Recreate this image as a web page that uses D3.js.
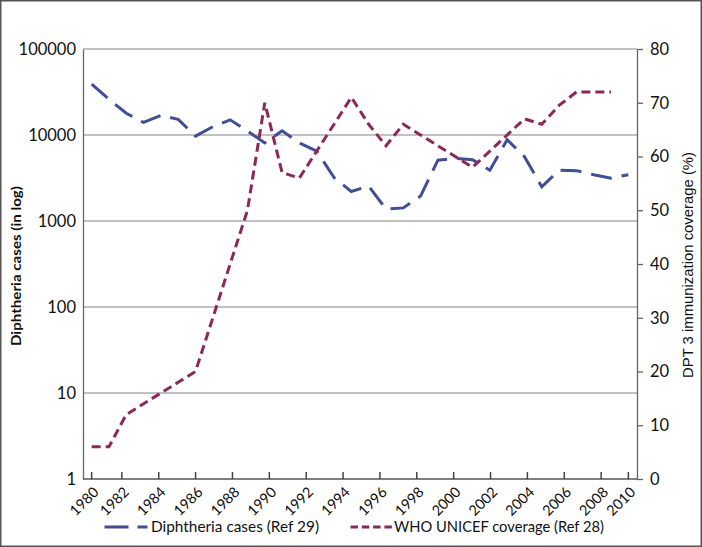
<!DOCTYPE html>
<html><head><meta charset="utf-8">
<script src="https://cdn.jsdelivr.net/npm/d3@7"></script>
<style>html,body{margin:0;padding:0;background:#fff;}svg{display:block;}</style>
</head><body>
<script>
// ---- data ----
const years = [1980,1981,1982,1983,1984,1985,1986,1987,1988,1989,1990,1991,1992,1993,1994,1995,
               1996,1997,1998,1999,2000,2001,2002,2003,2004,2005,2006,2007,2008,2009,2010,2011];
const diphtheriaCases = [39000,26000,17900,14000,16900,15200,9700,12500,15000,11100,8100,11200,8100,6500,3200,2200,
                         2550,1380,1420,1950,5100,5350,5150,3900,8800,5600,2500,3900,3850,3450,3150,3450];
const dptCoverage = [6,6,12,14,16,18,20,30,40,50,70,57,56,61,66,71,
                     66,62,66,64,62,60,58,61,64,67,66,69.5,72,72,72];
const xTickLabels = ["1980","1982","1984","1986","1988","1990","1992","1994","1996","1998","2000","2002","2004","2006","2008","2010"];
const leftTicks = [1,10,100,1000,10000,100000];
const rightTicks = [0,10,20,30,40,50,60,70,80];
const seriesNames = ["Diphtheria cases  (Ref 29)", "WHO UNICEF coverage (Ref 28)"];

const W = 702, H = 547;
const L = 83, R = 637, T = 49, B = 479;
const blue = "#414E94", pink = "#8B2858";
const font = "Lato, 'Open Sans', sans-serif";

const svg = d3.select("body").append("svg").attr("width", W).attr("height", H);
svg.append("rect").attr("x",0.75).attr("y",0.75).attr("width",W-1.5).attr("height",H-1.5)
   .attr("fill","#fff").attr("stroke","#555").attr("stroke-width",1.5);

const x = d3.scalePoint().domain(years).range([L, R]).padding(0.5);
const yL = d3.scaleLog().domain([1, 100000]).range([B, T]);
const yR = d3.scaleLinear().domain([0, 80]).range([B, T]);
const xTick = d3.scaleLinear().domain([1980, 2010]).range([85, 638]);

// gridlines
svg.append("g").selectAll("line").data(leftTicks.slice(1)).join("line")
  .attr("x1", L).attr("x2", R).attr("y1", d => yL(d)).attr("y2", d => yL(d))
  .attr("stroke", "#858585").attr("stroke-width", 1.2);

// left axis
const gl = svg.append("g").attr("transform", `translate(${L},0)`)
  .call(d3.axisLeft(yL).tickValues(leftTicks).tickFormat(d3.format("d")).tickSize(0).tickPadding(7));
gl.select(".domain").attr("stroke", "#666").attr("stroke-width", 1.3);
gl.selectAll("text").attr("font-family", font).attr("font-size", 16.5).attr("fill", "#111");

// right axis
const gr = svg.append("g").attr("transform", `translate(${R},0)`)
  .call(d3.axisRight(yR).tickValues(rightTicks).tickSize(6).tickSizeOuter(0).tickPadding(7));
gr.select(".domain").attr("stroke", "#666").attr("stroke-width", 1.3);
gr.selectAll(".tick line").attr("stroke", "#666").attr("stroke-width", 1.3);
gr.selectAll("text").attr("font-family", font).attr("font-size", 16.5).attr("fill", "#111");

// bottom axis
svg.append("line").attr("x1", L).attr("x2", R).attr("y1", B).attr("y2", B)
  .attr("stroke", "#555").attr("stroke-width", 1.5);
const tickPos = (lab, i) => i === 0 ? x(years[0]) : (i === xTickLabels.length - 1 ? x(years[years.length-1]) : xTick(+lab));
const gx = svg.append("g");
gx.selectAll("line").data(xTickLabels).join("line")
  .attr("x1", tickPos).attr("x2", tickPos).attr("y1", B).attr("y2", B - 7)
  .attr("stroke", "#444").attr("stroke-width", 1.5);
gx.selectAll("text").data(xTickLabels).join("text")
  .attr("transform", (d, i) => `translate(${tickPos(d, i) + 8},${B + 14}) rotate(-45)`)
  .attr("text-anchor", "end").attr("font-family", font).attr("font-size", 14.5).attr("fill", "#111")
  .text(d => d);

// titles
svg.append("text").attr("transform", `translate(21,266) rotate(-90)`)
  .attr("text-anchor", "middle").attr("font-family", font).attr("font-weight", "bold")
  .attr("font-size", 13.5).attr("fill", "#111")
  .attr("textLength", 160).attr("lengthAdjust", "spacingAndGlyphs")
  .text("Diphtheria cases (in log)");
svg.append("text").attr("transform", `translate(693,265) rotate(-90)`)
  .attr("text-anchor", "middle").attr("font-family", "'Liberation Sans Narrow','Liberation Sans',sans-serif")
  .attr("font-size", 15).attr("fill", "#111")
  .attr("textLength", 226).attr("lengthAdjust", "spacingAndGlyphs")
  .text("DPT 3 immunization coverage (%)");

// lines
const lineL = d3.line().x((d, i) => x(years[i])).y(d => yL(d));
const lineR = d3.line().x((d, i) => x(years[i])).y(d => yR(d));
svg.append("path").datum(diphtheriaCases).attr("d", lineL).attr("fill", "none")
  .attr("stroke", blue).attr("stroke-width", 3).attr("stroke-dasharray", "21,10");
svg.append("path").datum(dptCoverage).attr("d", lineR).attr("fill", "none")
  .attr("stroke", pink).attr("stroke-width", 3).attr("stroke-dasharray", "9,5");

// legend
const ly = 527;
svg.append("line").attr("x1", 104.5).attr("x2", 147.5).attr("y1", ly).attr("y2", ly)
  .attr("stroke", blue).attr("stroke-width", 3).attr("stroke-dasharray", "24,9");
svg.append("text").attr("x", 151).attr("y", ly + 5).attr("font-family", font).attr("font-size", 15)
  .attr("fill", "#111").attr("textLength", 168).attr("lengthAdjust", "spacingAndGlyphs").text(seriesNames[0]);
svg.append("line").attr("x1", 350.5).attr("x2", 392).attr("y1", ly).attr("y2", ly)
  .attr("stroke", pink).attr("stroke-width", 3).attr("stroke-dasharray", "7.5,3.8");
svg.append("text").attr("x", 394).attr("y", ly + 5).attr("font-family", font).attr("font-size", 15)
  .attr("fill", "#111").attr("textLength", 210).attr("lengthAdjust", "spacingAndGlyphs").text(seriesNames[1]);
</script>
</body></html>
